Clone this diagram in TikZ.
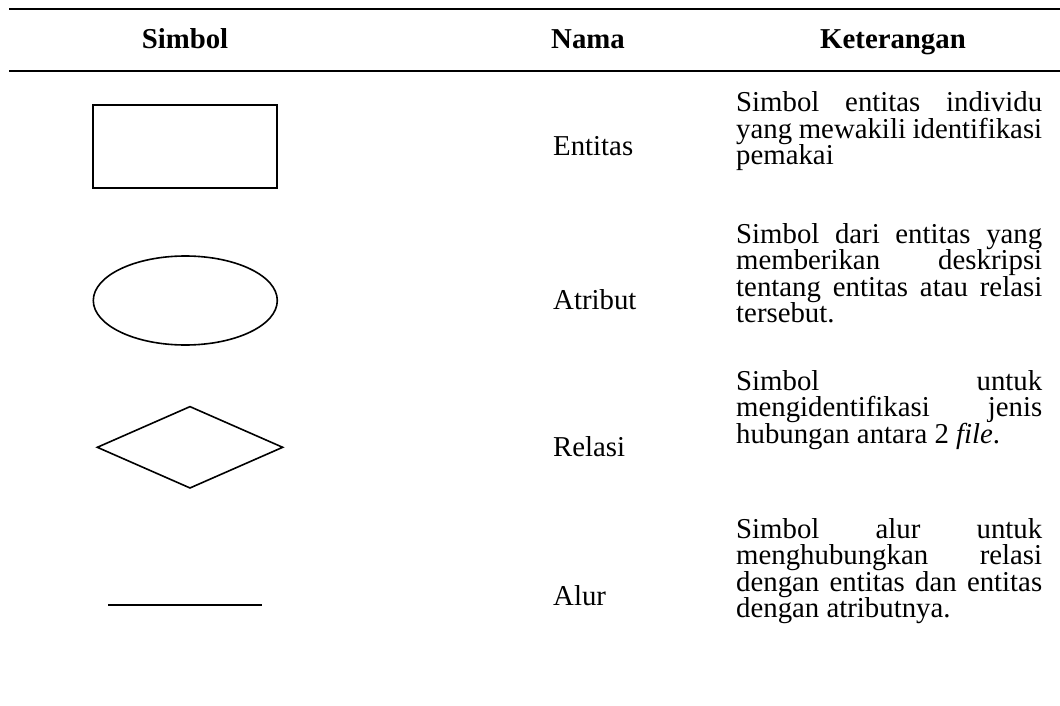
\documentclass[tikz,border=0pt]{standalone}
\usepackage{fontspec}
\setmainfont{Liberation Serif}
\usetikzlibrary{shapes.geometric}
\newcommand{\jline}[1]{\makebox[306pt][s]{#1}}
\newcommand{\ketfont}{\fontsize{28.8pt}{26.6pt}\selectfont\lineskiplimit=-100pt}
\begin{document}
\begin{tikzpicture}[x=1pt,y=-1pt,
		every node/.style={inner sep=0pt},
		hrule/.style={line width=2.2pt},
		symb/.style={draw,black,line width=1.6pt},
		head/.style={font=\ketfont\bfseries,anchor=base},
		nama/.style={font=\ketfont,anchor=base west},
		ket/.style={font=\ketfont,anchor=base west}]
		\useasboundingbox (0,0) rectangle (1060,706);
		\draw [hrule] (9,8.7) -- (1060,8.7);
		\draw [hrule] (9,71) -- (1060,71);
		\node [head] (h-simbol) at (185,49) {Simbol};
		\node [head] (h-nama) at (588,49) {Nama};
		\node [head] (h-ket) at (893,49) {Keterangan};
		\node [symb,rectangle,line width=2pt,minimum width=184pt,minimum height=83pt] (entitas) at (185.3,146.7) {};
		\node [nama] (n-entitas) at (553,155.5) {Entitas};
		\node [ket] (k-entitas) at (736,111.7) {\parbox[t]{306pt}{\ketfont
				\jline{Simbol entitas individu}\\
				\jline{yang mewakili identifikasi}\\
				pemakai}};
		\node [symb,ellipse,minimum width=184pt,minimum height=89pt] (atribut) at (185.3,300.5) {};
		\node [nama] (n-atribut) at (553,309.5) {Atribut};
		\node [ket] (k-atribut) at (736,243) {\parbox[t]{306pt}{\ketfont
				\jline{Simbol dari entitas yang}\\
				\jline{memberikan deskripsi}\\
				\jline{tentang entitas atau relasi}\\
				tersebut.}};
		\node [symb,diamond,minimum width=186pt,minimum height=82pt] (relasi) at (190,447.3) {};
		\node [nama] (n-relasi) at (553,456.5) {Relasi};
		\node [ket] (k-relasi) at (736,390) {\parbox[t]{306pt}{\ketfont
				\jline{Simbol untuk}\\
				\jline{mengidentifikasi jenis}\\
				hubungan antara 2 \textit{file}.}};
		\coordinate (alur-a) at (108.3,605);
		\coordinate (alur-b) at (261.7,605);
		\draw [black,line width=2pt] (alur-a) -- (alur-b);
		\node [nama] (n-alur) at (553,605.5) {Alur};
		\node [ket] (k-alur) at (736,538) {\parbox[t]{306pt}{\ketfont
				\jline{Simbol alur untuk}\\
				\jline{menghubungkan relasi}\\
				\jline{dengan entitas dan entitas}\\
				dengan atributnya.}};
	\end{tikzpicture}
\end{document}
